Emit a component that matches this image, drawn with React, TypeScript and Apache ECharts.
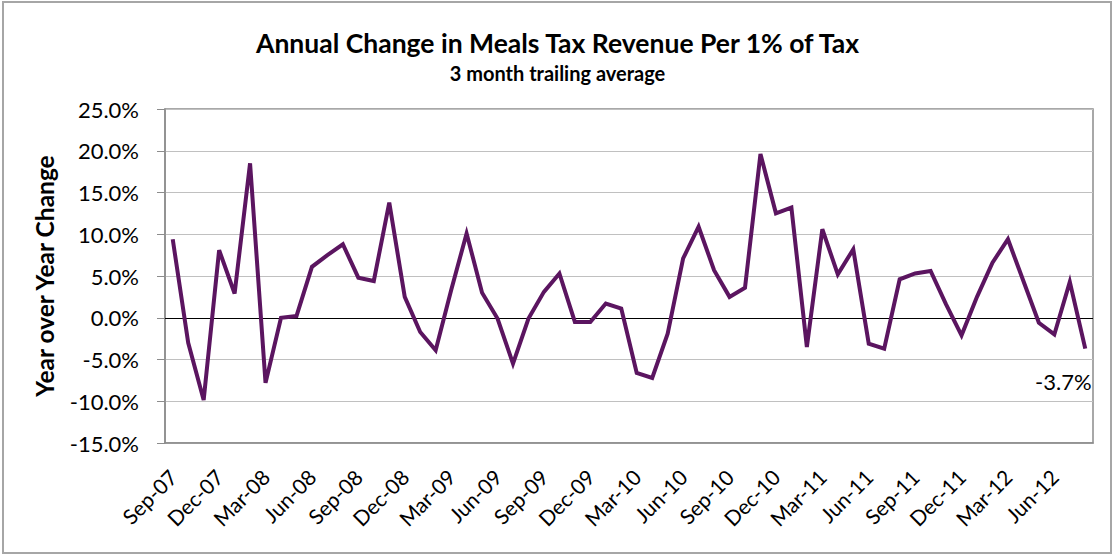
import React, { useEffect, useRef } from "react";
import * as echarts from "echarts";

const months: string[] = [
  "Sep-07", "Oct-07", "Nov-07", "Dec-07", "Jan-08", "Feb-08", "Mar-08", "Apr-08", "May-08", "Jun-08", "Jul-08", "Aug-08",
  "Sep-08", "Oct-08", "Nov-08", "Dec-08", "Jan-09", "Feb-09", "Mar-09", "Apr-09", "May-09", "Jun-09", "Jul-09", "Aug-09",
  "Sep-09", "Oct-09", "Nov-09", "Dec-09", "Jan-10", "Feb-10", "Mar-10", "Apr-10", "May-10", "Jun-10", "Jul-10", "Aug-10",
  "Sep-10", "Oct-10", "Nov-10", "Dec-10", "Jan-11", "Feb-11", "Mar-11", "Apr-11", "May-11", "Jun-11", "Jul-11", "Aug-11",
  "Sep-11", "Oct-11", "Nov-11", "Dec-11", "Jan-12", "Feb-12", "Mar-12", "Apr-12", "May-12", "Jun-12", "Jul-12", "Aug-12",
];

// Year-over-year change, percent
const yoyChange: number[] = [
  9.4, -3.0, -9.85, 8.1, 2.9, 18.5, -7.8, 0.0, 0.2, 6.1, 7.5, 8.8,
  4.8, 4.4, 13.8, 2.5, -1.7, -3.9, 3.3, 10.1, 3.0, -0.1, -5.5, -0.1,
  3.1, 5.3, -0.5, -0.5, 1.7, 1.1, -6.6, -7.2, -1.9, 7.1, 10.9, 5.7,
  2.5, 3.6, 19.6, 12.5, 13.2, -3.5, 10.6, 5.2, 8.2, -3.1, -3.7, 4.6,
  5.3, 5.6, 1.6, -2.1, 2.5, 6.6, 9.4, 4.4, -0.6, -2.0, 4.3, -3.7,
];

const titleText = "Annual Change in Meals Tax Revenue Per 1% of Tax";
const subtitleText = "3 month trailing average";
const yAxisName = "Year over Year Change";

const FONT = "Lato, 'Open Sans', sans-serif";

export default function App() {
  const ref = useRef<HTMLDivElement>(null);

  useEffect(() => {
    if (!ref.current) return;
    const chart = echarts.init(ref.current, undefined, { renderer: "svg" });
    const lastIdx = yoyChange.length - 1;
    chart.setOption({
      animation: false,
      backgroundColor: "#ffffff",
      textStyle: { fontFamily: FONT },
      title: [
        {
          text: titleText,
          left: "center",
          top: 24,
          textStyle: { fontFamily: FONT, fontSize: 26.5, fontWeight: "bold", color: "#000" },
        },
        {
          text: subtitleText,
          left: "center",
          top: 58,
          textStyle: { fontFamily: FONT, fontSize: 20, fontWeight: "bold", color: "#000" },
        },
      ],
      graphic: [
        {
          type: "rect",
          shape: { x: 3, y: 2, width: 1108, height: 551 },
          style: { fill: "none", stroke: "#a6a6a6", lineWidth: 2 },
          silent: true,
          z: -1,
        },
      ],
      grid: {
        left: 165,
        right: 22,
        top: 109,
        bottom: 112,
        show: true,
        borderColor: "#8c8c8c",
        borderWidth: 1.5,
        containLabel: false,
      },
      xAxis: {
        type: "category",
        data: months,
        boundaryGap: true,
        axisLine: { onZero: false, lineStyle: { color: "#8c8c8c", width: 1.5 } },
        axisTick: { show: false },
        axisLabel: {
          interval: 2,
          rotate: 45,
          fontSize: 21,
          color: "#000",
          fontFamily: FONT,
          margin: 30,
        },
        splitLine: { show: false },
      },
      yAxis: {
        type: "value",
        min: -15,
        max: 25,
        interval: 5,
        name: yAxisName,
        nameLocation: "middle",
        nameGap: 108,
        nameTextStyle: { fontFamily: FONT, fontSize: 24.5, fontWeight: "bold", color: "#000" },
        axisLine: { show: true, lineStyle: { color: "#8c8c8c", width: 1.5 } },
        axisTick: { show: true, length: 8, lineStyle: { color: "#8c8c8c" } },
        axisLabel: {
          fontSize: 22,
          color: "#000",
          fontFamily: FONT,
          margin: 26,
          formatter: (v: number) => v.toFixed(1) + "%",
        },
        splitLine: { show: true, lineStyle: { color: "#c0c0c0", width: 1 } },
      },
      series: [
        {
          type: "line",
          data: yoyChange.map((v, i) =>
            i === lastIdx
              ? {
                  value: v,
                  label: {
                    show: true,
                    position: "bottom",
                    distance: 10,
                    offset: [-22, 12],
                    fontSize: 22,
                    color: "#000",
                    fontFamily: FONT,
                    formatter: (p: any) => p.value.toFixed(1) + "%",
                  },
                }
              : v
          ),
          showSymbol: true,
          showAllSymbol: true,
          symbol: "circle",
          symbolSize: 0,
          lineStyle: { color: "#5b1560", width: 4, join: "miter" },
          itemStyle: { color: "#5b1560" },
          markLine: {
            silent: true,
            symbol: ["none", "none"],
            label: { show: false },
            lineStyle: { color: "#000", width: 1, type: "solid" },
            data: [{ yAxis: 0 }],
            z: 1,
          },
          z: 3,
        },
      ],
    });
    return () => chart.dispose();
  }, []);

  return (
    <div
      ref={ref}
      style={{ position: "absolute", left: 0, top: 0, width: 1115, height: 555 }}
    />
  );
}
